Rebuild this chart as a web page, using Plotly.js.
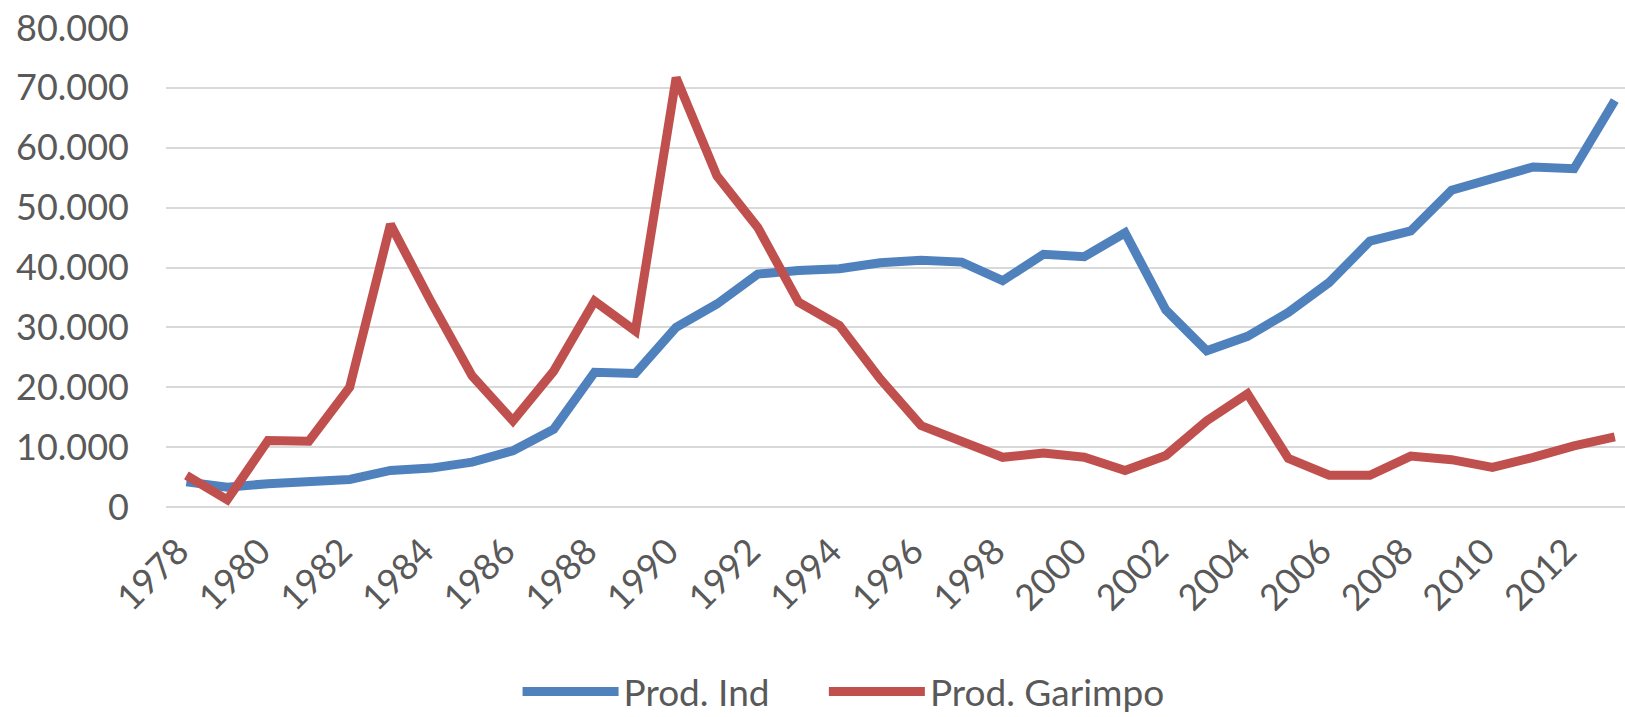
<!DOCTYPE html>
<html>
<head>
<meta charset="utf-8">
<script src="https://cdn.plot.ly/plotly-3.0.1.min.js"></script>
<style>html,body{margin:0;padding:0;background:#fff;}#chart{width:1625px;height:717px;}</style>
</head>
<body>
<div id="chart"></div>
<script>
const years = [1978,1979,1980,1981,1982,1983,1984,1985,1986,1987,1988,1989,1990,1991,1992,1993,1994,1995,1996,1997,1998,1999,2000,2001,2002,2003,2004,2005,2006,2007,2008,2009,2010,2011,2012,2013];
const prodInd = [4200,3300,3900,4300,4600,6100,6500,7500,9400,13000,22500,22300,30000,33900,38900,39500,39800,40800,41200,40900,37800,42200,41800,45800,32900,26100,28500,32500,37500,44400,46100,52900,54800,56800,56500,67900];
const prodGarimpo = [5300,1200,11100,11000,20000,47200,34200,21900,14400,22700,34400,29400,71700,55300,46700,34200,30300,21400,13600,11100,8300,9000,8300,6100,8600,14400,18900,8100,5300,5300,8500,7900,6600,8300,10200,11700];
const seriesNames = ['Prod. Ind', 'Prod. Garimpo'];

const font = 'Lato, "Open Sans", "Noto Sans", sans-serif';
const traces = [
  {x: years, y: prodInd, name: seriesNames[0], mode: 'lines', line: {color: '#4F81BD', width: 9}, legend: 'legend'},
  {x: years, y: prodGarimpo, name: seriesNames[1], mode: 'lines', line: {color: '#C0504D', width: 9}, legend: 'legend2'}
];
const legFont = {family: font, size: 37, color: '#595959'};
const layout = {
  width: 1625, height: 717,
  margin: {l: 166, r: 0, t: 28, b: 210},
  paper_bgcolor: '#fff', plot_bgcolor: '#fff',
  separators: ',.',
  showlegend: true,
  legend: {orientation: 'h', x: 0.3185, xref: 'container', xanchor: 'left', y: 0.035, yref: 'container', yanchor: 'middle',
           font: legFont, itemwidth: 96, bgcolor: 'rgba(0,0,0,0)'},
  legend2: {orientation: 'h', x: 0.507, xref: 'container', xanchor: 'left', y: 0.035, yref: 'container', yanchor: 'middle',
           font: legFont, itemwidth: 96, bgcolor: 'rgba(0,0,0,0)'},
  xaxis: {range: [1977.5, 2013.25], tickmode: 'linear', tick0: 1978, dtick: 2, tickangle: -45,
          showgrid: false, zeroline: false, showline: false, ticks: '', ticklabelstandoff: 15, ticklabelshift: -8,
          tickfont: {family: font, size: 36, color: '#595959'}},
  yaxis: {range: [0, 80000], tickmode: 'linear', tick0: 0, dtick: 10000, tickformat: ',d',
          showgrid: true, gridcolor: '#D9D9D9', gridwidth: 2, zeroline: true, zerolinecolor: '#D9D9D9', zerolinewidth: 2,
          showline: false, ticks: '', ticklabelstandoff: 36,
          tickfont: {family: font, size: 36, color: '#595959'}}
};
Plotly.newPlot('chart', traces, layout, {displayModeBar: false, staticPlot: true});
</script>
</body>
</html>
